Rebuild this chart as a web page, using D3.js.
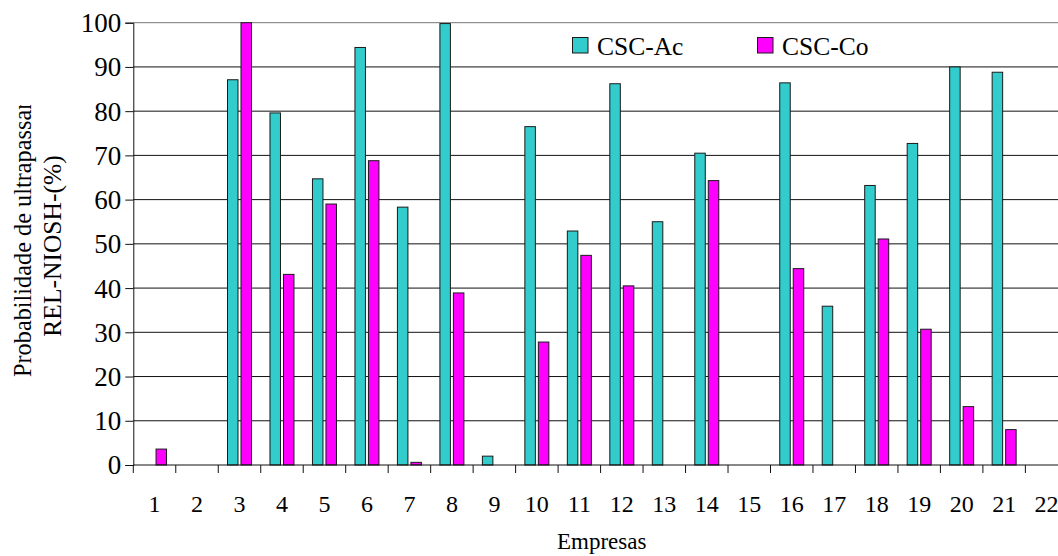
<!DOCTYPE html>
<html>
<head>
<meta charset="utf-8">
<script src="https://cdn.jsdelivr.net/npm/d3@7/dist/d3.min.js"></script>
<style>
  html, body { margin: 0; padding: 0; background: #fff; }
  svg { display: block; }
  svg text { font-family: "Liberation Serif", "Times New Roman", serif !important; fill: #000; }
</style>
</head>
<body>
<svg id="chart" width="1058" height="556"></svg>
<script>
// Companies (Empresas) 1..22
const empresas = ["1","2","3","4","5","6","7","8","9","10","11","12","13","14","15","16","17","18","19","20","21","22"];
const seriesNames = ["CSC-Ac", "CSC-Co"];
// Probability of exceeding REL-NIOSH (%) per company
const cscAc = [0, 0, 87.1, 79.6, 64.7, 94.4, 58.3, 99.8, 2.0, 76.5, 52.9, 86.2, 55.0, 70.5, 0, 86.4, 35.9, 63.2, 72.7, 90.0, 88.8, 0];
const cscCo = [3.6, 0, 100, 43.1, 59.0, 68.8, 0.6, 38.9, 0, 27.8, 47.4, 40.5, 0, 64.3, 0, 44.4, 0, 51.1, 30.7, 13.2, 8.0, 0];
const yTicks = [0, 10, 20, 30, 40, 50, 60, 70, 80, 90, 100];
const colors = ["#33CCCC", "#FF00FF"];

const svg = d3.select("#chart");
const plotLeft = 133.3, plotTop = 22.7, plotBottom = 465, step = 42.48;
const SERIF = "'Liberation Serif', 'Times New Roman', serif";

const x0 = d3.scaleBand().domain(empresas)
  .range([plotLeft, plotLeft + step * empresas.length]).padding(0);
const x1 = d3.scaleBand().domain(seriesNames)
  .range([step / 2 - 12.5, step / 2 + 12.5]).paddingInner(0.148);
const y = d3.scaleLinear().domain([0, 100]).range([plotBottom, plotTop]);

// horizontal gridlines
svg.append("g").selectAll("line").data(yTicks.filter(d => d > 0)).join("line")
  .attr("x1", plotLeft).attr("x2", 1058)
  .attr("y1", d => y(d)).attr("y2", d => y(d))
  .attr("stroke", d => d === 100 ? "#777" : "#111").attr("stroke-width", 1);

// y axis
const yAxis = svg.append("g").attr("transform", `translate(${plotLeft},0)`)
  .call(d3.axisLeft(y).tickValues(yTicks).tickSize(8).tickPadding(4).tickFormat(d3.format("d")));
yAxis.attr("font-family", SERIF);
yAxis.select(".domain").attr("stroke", "#111");
yAxis.selectAll(".tick line").attr("stroke", "#111");
yAxis.selectAll("text").attr("font-size", 27).attr("fill", "#000")
  .attr("font-family", SERIF).attr("dy", "0.33em");

// bars
const rows = empresas.map((e, i) => ({ e, vals: [cscAc[i], cscCo[i]] }));
const groups = svg.append("g").selectAll("g").data(rows).join("g")
  .attr("transform", d => `translate(${x0(d.e)},0)`);
groups.selectAll("rect")
  .data(d => d.vals.map((v, k) => ({ s: seriesNames[k], v, k })).filter(o => o.v > 0))
  .join("rect")
  .attr("x", o => x1(o.s) + 0.5)
  .attr("width", x1.bandwidth() - 1)
  .attr("y", o => y(o.v))
  .attr("height", o => y(0) - y(o.v))
  .attr("fill", o => colors[o.k])
  .attr("stroke", "#1a1a1a").attr("stroke-width", 1);

// x axis: ticks on category boundaries, labels centred in each category
const xAxisG = svg.append("g");
xAxisG.append("line").attr("x1", plotLeft).attr("x2", 1058)
  .attr("y1", plotBottom).attr("y2", plotBottom).attr("stroke", "#111");
xAxisG.selectAll("line.tk").data(empresas).join("line").attr("class", "tk")
  .attr("x1", d => x0(d)).attr("x2", d => x0(d))
  .attr("y1", plotBottom).attr("y2", plotBottom + 8).attr("stroke", "#111");
xAxisG.selectAll("text").data(empresas).join("text")
  .attr("x", d => x0(d) + x0.bandwidth() / 2).attr("y", 511.5)
  .attr("text-anchor", "middle").attr("font-size", 24).attr("font-family", SERIF)
  .text(d => d);

// axis titles
svg.append("text").attr("x", 601.7).attr("y", 549)
  .attr("text-anchor", "middle").attr("font-size", 23).attr("font-family", SERIF).text("Empresas");

// the y title box is narrower than its first line, so the text is cut at the top
svg.append("clipPath").attr("id", "ytClip")
  .append("rect").attr("x", 0).attr("y", 105).attr("width", 80).attr("height", 451);
const yt = svg.append("g").attr("clip-path", "url(#ytClip)").attr("font-family", SERIF);
yt.append("text").attr("transform", "translate(31,377) rotate(-90)")
  .attr("text-anchor", "start").attr("font-size", 24.3).text("Probabilidade de ultrapassar");
yt.append("text").attr("transform", "translate(61,246) rotate(-90)")
  .attr("text-anchor", "middle").attr("font-size", 25.5).text("REL-NIOSH-(%)");

// legend
const legend = svg.append("g").attr("font-family", SERIF).selectAll("g").data(seriesNames).join("g")
  .attr("transform", (d, i) => `translate(${[572, 757][i]},37)`);
legend.append("rect").attr("x", 0.5).attr("y", 0.5).attr("width", 15.5).attr("height", 15.5)
  .attr("fill", (d, i) => colors[i]).attr("stroke", "#1a1a1a");
legend.append("text").attr("x", 25).attr("y", 17.5).attr("font-size", 25.5).text(d => d);
</script>
</body>
</html>
